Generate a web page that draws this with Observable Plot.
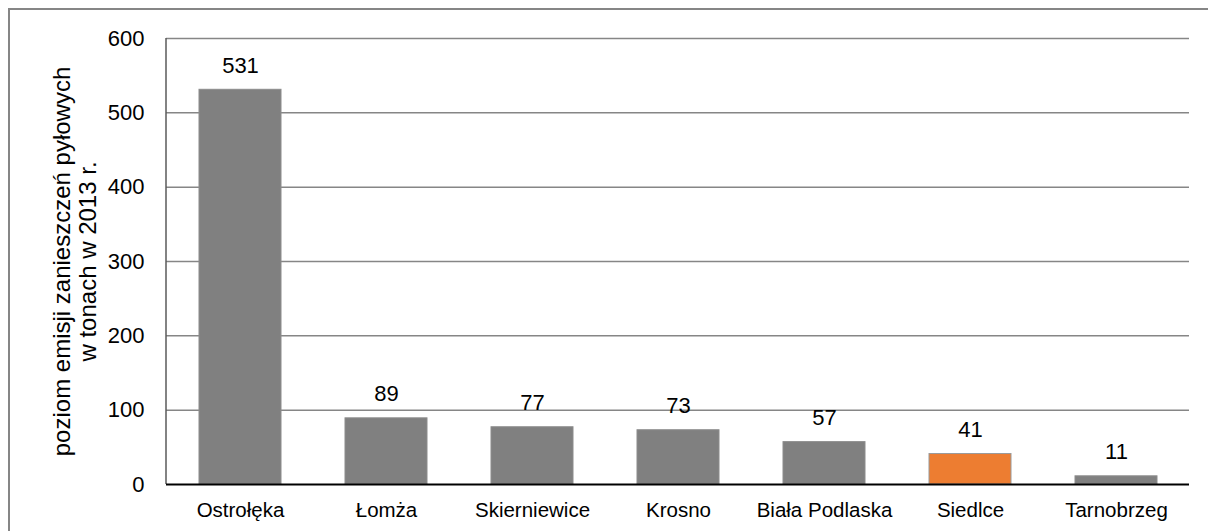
<!DOCTYPE html>
<html>
<head>
<meta charset="utf-8">
<script src="https://cdn.jsdelivr.net/npm/d3@7"></script>
<script src="https://cdn.jsdelivr.net/npm/@observablehq/plot@0.6"></script>
<style>
  html, body { margin: 0; padding: 0; background: #fff; }
  #wrap { position: relative; width: 1208px; height: 531px; overflow: hidden; font-family: "Liberation Sans", Arial, sans-serif; }
  #frame { position: absolute; left: 8px; top: 8px; width: 1300px; height: 600px; border-left: 2px solid #868686; border-top: 2px solid #868686; pointer-events: none; }
</style>
</head>
<body>
<div id="wrap"><div id="frame"></div></div>
<script>
const cities = ["Ostrołęka", "Łomża", "Skierniewice", "Krosno", "Biała Podlaska", "Siedlce", "Tarnobrzeg"];
const values = [531, 89, 77, 73, 57, 41, 11];
const highlight = "Siedlce";
const yTicks = [0, 100, 200, 300, 400, 500, 600];
const yTitle = "poziom emisji zanieszczeń pyłowych\nw tonach w 2013 r.";

const data = cities.map((c, i) => ({city: c, value: values[i]}));

// left axis line drawn at the plot frame's left edge
function leftAxisLine(index, scales, values, dims) {
  const line = document.createElementNS("http://www.w3.org/2000/svg", "line");
  const x = dims.marginLeft;
  line.setAttribute("x1", x);
  line.setAttribute("x2", x);
  line.setAttribute("y1", scales.y(600));
  line.setAttribute("y2", scales.y(0));
  line.setAttribute("stroke", "#5a5a5a");
  line.setAttribute("stroke-width", 1.5);
  return line;
}

const chart = Plot.plot({
  width: 1208,
  height: 531,
  marginLeft: 166,
  marginRight: 19,
  marginTop: 38,
  marginBottom: 47,
  style: {fontFamily: "'Liberation Sans', Arial, sans-serif", background: "transparent", overflow: "visible"},
  x: {domain: cities, paddingInner: 0.44, paddingOuter: 0.22, label: null},
  y: {domain: [0, 600], ticks: yTicks, label: null},
  marks: [
    Plot.ruleY(yTicks.filter(d => d > 0), {stroke: "#868686", strokeWidth: 1.5, strokeOpacity: 1}),
    Plot.barY(data, {x: "city", y: "value", fill: d => d.city === highlight ? "#ED7D31" : "#808080", stroke: d => d.city === highlight ? "#9a9a9a" : "#8c8c8c", strokeWidth: 1}),
    leftAxisLine,
    Plot.ruleY([0], {stroke: "#000", strokeWidth: 2}),
    Plot.text(data, {x: "city", y: "value", text: d => String(d.value), dy: -24, fontSize: 22, fill: "#000"}),
    Plot.axisY({ticks: yTicks, tickSize: 0, tickPadding: 22, fontSize: 22, tickFormat: d => String(d), label: null, fill: "#000"}),
    Plot.axisX({tickSize: 0, tickPadding: 18, fontSize: 20.5, label: null, fill: "#000"}),
    Plot.text([yTitle], {frameAnchor: "left", dx: -92, rotate: -90, fontSize: 24, lineHeight: 1.08, fill: "#000", textAnchor: "middle"})
  ]
});
document.getElementById("wrap").prepend(chart);
</script>
</body>
</html>
